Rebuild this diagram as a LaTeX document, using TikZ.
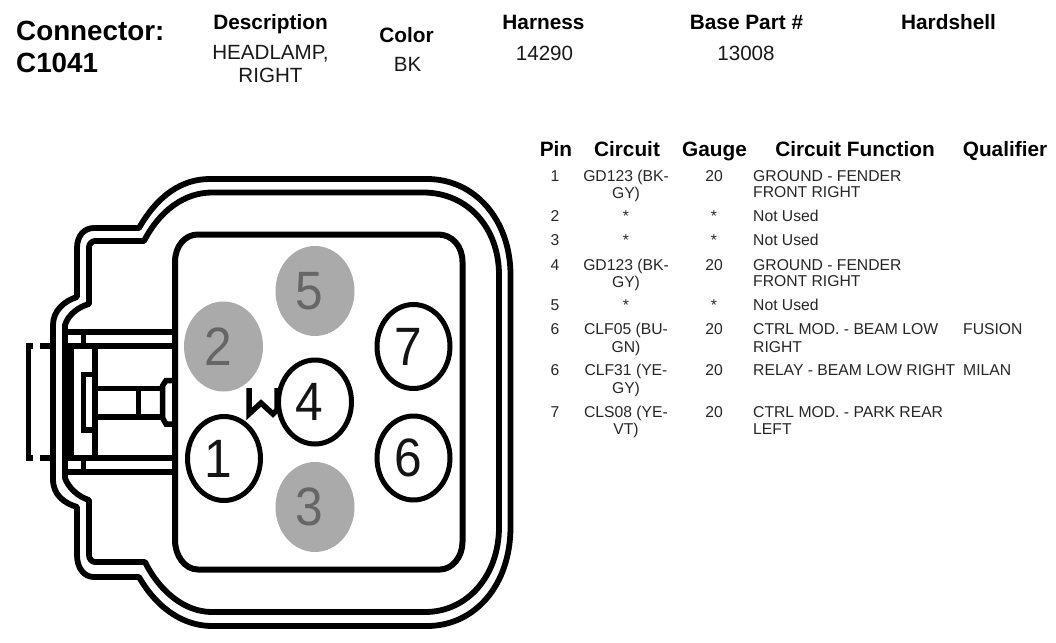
\documentclass[tikz,border=0pt]{standalone}
\usepackage{fontspec}
\usepackage{graphicx}
\setmainfont{Liberation Sans}
\usetikzlibrary{shapes.geometric}
\newcommand{\pindigit}[1]{\kern-11pt\scalebox{.92}[1]{#1}}
\tikzset{
  x=1pt,y=-1pt,
  shell/.style={draw=black,line width=5.8pt,line join=round},
  socket/.style={draw=black,line width=6pt,line join=round},
  latch/.style={draw=black,line width=5.5pt},
  pinopen/.style={ellipse,draw=black,line width=5pt,fill=white,minimum width=73pt,minimum height=84pt,inner sep=0pt,outer sep=0pt,text=black!92,font=\fontsize{54}{54}\selectfont},
  pinshut/.style={ellipse,fill=pingray,minimum width=79pt,minimum height=90pt,inner sep=0pt,outer sep=0pt,text=pintext,font=\fontsize{54}{54}\selectfont},
  bigb/.style={anchor=base west,inner sep=0pt,font=\fontsize{27.8}{27.8}\selectfont\bfseries},
  headb/.style={anchor=base,inner sep=0pt,font=\fontsize{20.8}{20.8}\selectfont\bfseries},
  headr/.style={anchor=base,inner sep=0pt,font=\fontsize{20.6}{20.6}\selectfont,text=black!90},
  cell/.style={anchor=base,inner sep=0pt,font=\fontsize{15.7}{15.7}\selectfont,text=black!85},
  celll/.style={cell,anchor=base west},
}
\definecolor{pingray}{HTML}{AAAAAA}
\definecolor{pintext}{HTML}{666666}
\begin{document}
\begin{tikzpicture}
\useasboundingbox (0,0) rectangle (1056,642);
% outer shell
\path[shell] (53,479) .. controls (53,495) and (64,503) .. (77,507) -- (77,555)
  .. controls (77,568) and (84,577) .. (94,577) -- (139,577)
  .. controls (158,610) and (185,626) .. (212,626) -- (427,626)
  .. controls (475,626) and (510.5,585) .. (510.5,527) -- (510.5,275)
  .. controls (510.5,220) and (475,179) .. (427,179) -- (210,179)
  .. controls (182,179) and (158,195) .. (139,228) -- (94,228)
  .. controls (84,228) and (77,236) .. (77,248) -- (77,297)
  .. controls (64,301) and (53,311) .. (53,325) -- cycle;
% inner shell
\path[shell] (65,478) .. controls (68,487) and (78,497) .. (89,500) -- (89,555)
  .. controls (89,559) and (92,562) .. (95,562) -- (145,562)
  .. controls (160,592) and (185,612) .. (212,612) -- (425,612)
  .. controls (468,612) and (499,575) .. (499,527) -- (499,275)
  .. controls (499,228) and (468,192.5) .. (423,192.5) -- (212,192.5)
  .. controls (185,192.5) and (160,210) .. (144,241) -- (95,241)
  .. controls (92,241) and (89,244) .. (89,247) -- (89,304)
  .. controls (78,307) and (68,315) .. (65,325) -- cycle;
% socket
\path[socket] (175,262) .. controls (175,246) and (185,234.5) .. (198,234.5) -- (438,234.5)
  .. controls (452,234.5) and (462.5,246) .. (462.5,262) -- (462.5,542)
  .. controls (462.5,557) and (452,569.5) .. (440,569.5) -- (198,569.5)
  .. controls (185,569.5) and (175,556) .. (175,540) -- cycle;
% latch
\draw[latch] (65,332) -- (175,332);
\draw[latch] (65,346) -- (175,346);
\draw[latch] (65,458) -- (175,458);
\draw[latch] (65,472) -- (175,472);
\draw[latch] (83.5,332) -- (83.5,346);
\draw[latch] (83.5,458) -- (83.5,472);
\fill[black] (62,346) rectangle (74,458);
\draw[latch] (95,346) -- (95,458);
\draw[latch] (33,346) -- (28.5,346) -- (28.5,458) -- (33,458);
\draw[latch] (40,346) -- (53,346);
\draw[latch] (40,458) -- (53,458);
\draw[latch] (95,374.5) -- (83.5,374.5) -- (83.5,430) -- (95,430);
\draw[latch] (95,388.5) -- (163,388.5);
\draw[latch] (95,417) -- (163,417);
\draw[latch] (138.5,388.5) -- (138.5,417);
\draw[latch] (175,380.5) -- (166,380.5) -- (162.5,386) -- (162.5,418) -- (166,424) -- (175,424);
% W mark
\draw[black,line width=5.5pt] (249,388) -- (249,414) -- (261,403) -- (273,414) -- (277,410) -- (277,388);
% pins
\node[pinopen] (p1) at (224,458.5) {\pindigit{1}};
\node[pinshut] (p2) at (223.5,346.5) {\pindigit{2}};
\node[pinshut] (p3) at (315,507) {\pindigit{3}};
\node[pinopen] (p4) at (315,402) {\pindigit{4}};
\node[pinshut] (p5) at (315,291) {\pindigit{5}};
\node[pinopen] (p6) at (413.5,458) {\pindigit{6}};
\node[pinopen] (p7) at (413.5,346.5) {\pindigit{7}};
% title block
\node[bigb] (t1) at (16,41) {Connector:};
\node[bigb] (t2) at (16,72.5) {C1041};
\node[headb] (t3) at (270.5,30) {Description};
\node[headr] (t4) at (270.5,59.5) {HEADLAMP,};
\node[headr] (t5) at (270.5,82.5) {RIGHT};
\node[headb] (t6) at (406.5,42) {Color};
\node[headr] (t7) at (407.5,71) {BK};
\node[headb] (t8) at (543.5,30) {Harness};
\node[headr] (t9) at (544.5,60) {14290};
\node[headb] (t10) at (746.5,30) {Base Part \#};
\node[headr] (t11) at (746,60) {13008};
\node[headb] (t12) at (948.5,30) {Hardshell};
% table header
\node[headb] (h1) at (556,156) {Pin};
\node[headb] (h2) at (627,156) {Circuit};
\node[headb] (h3) at (714.5,156) {Gauge};
\node[headb] (h4) at (855,156) {Circuit Function};
\node[headb] (h5) at (1005,156) {Qualifier};
% rows
\node[cell] (a1) at (555,181) {1};
\node[cell] (b1) at (626,181) {GD123 (BK-};
\node[cell] (b1x) at (626,198) {GY)};
\node[cell] (c1) at (714,181) {20};
\node[celll] (d1) at (753,181) {GROUND - FENDER};
\node[celll] (d1x) at (753,197.5) {FRONT RIGHT};
\node[cell] (a2) at (555,221.5) {2};
\node[cell] (b2) at (626,221.5) {*};
\node[cell] (c2) at (714,221.5) {*};
\node[celll] (d2) at (753,221.5) {Not Used};
\node[cell] (a3) at (555,245.5) {3};
\node[cell] (b3) at (626,245.5) {*};
\node[cell] (c3) at (714,245.5) {*};
\node[celll] (d3) at (753,245.5) {Not Used};
\node[cell] (a4) at (555,270) {4};
\node[cell] (b4) at (626,270) {GD123 (BK-};
\node[cell] (b4x) at (626,287) {GY)};
\node[cell] (c4) at (714,270) {20};
\node[celll] (d4) at (753,270) {GROUND - FENDER};
\node[celll] (d4x) at (753,286.5) {FRONT RIGHT};
\node[cell] (a5) at (555,310.5) {5};
\node[cell] (b5) at (626,310.5) {*};
\node[cell] (c5) at (714,310.5) {*};
\node[celll] (d5) at (753,310.5) {Not Used};
\node[cell] (a6) at (555,334.5) {6};
\node[cell] (b6) at (626,334.5) {CLF05 (BU-};
\node[cell] (b6x) at (626,352) {GN)};
\node[cell] (c6) at (714,334.5) {20};
\node[celll] (d6) at (753,334.5) {CTRL MOD. - BEAM LOW};
\node[celll] (d6x) at (753,352.5) {RIGHT};
\node[celll] (e6) at (963,334.5) {FUSION};
\node[cell] (a7) at (555,375.5) {6};
\node[cell] (b7) at (626,375.5) {CLF31 (YE-};
\node[cell] (b7x) at (626,393.5) {GY)};
\node[cell] (c7) at (714,375.5) {20};
\node[celll] (d7) at (753,375.5) {RELAY - BEAM LOW RIGHT};
\node[celll] (e7) at (963,375.5) {MILAN};
\node[cell] (a8) at (555,417.5) {7};
\node[cell] (b8) at (626,417.5) {CLS08 (YE-};
\node[cell] (b8x) at (626,434.5) {VT)};
\node[cell] (c8) at (714,417.5) {20};
\node[celll] (d8) at (753,417.5) {CTRL MOD. - PARK REAR};
\node[celll] (d8x) at (753,434.5) {LEFT};
\end{tikzpicture}
\end{document}
